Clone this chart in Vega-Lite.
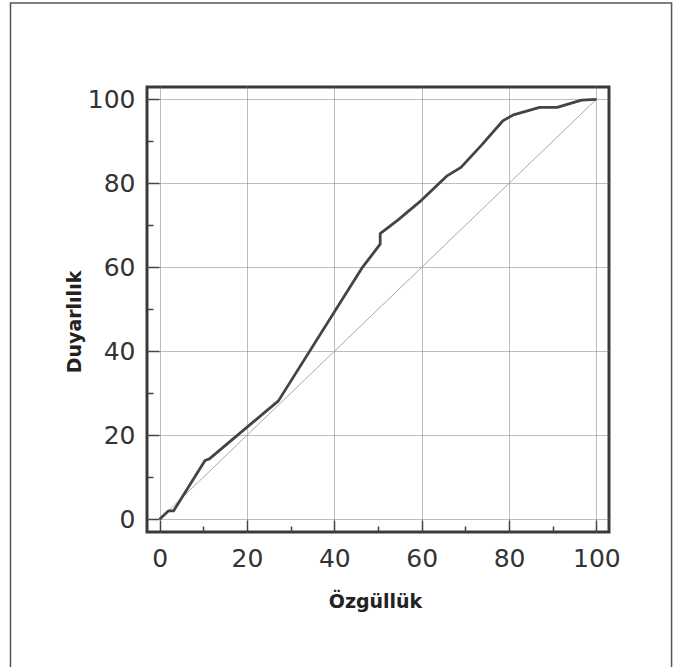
{
  "$schema": "https://vega.github.io/schema/vega-lite/v6.json",
  "width": 462,
  "height": 445,
  "autosize": {"type": "none"},
  "padding": {"left": 147, "top": 87, "right": 68, "bottom": 135},
  "background": "white",
  "config": {
    "view": {"stroke": "#3a3a3a", "strokeWidth": 3},
    "font": "DejaVu Sans"
  },
  "layer": [
    {
      "data": {"values": [{"s": 0, "d": 0}, {"s": 100, "d": 100}]},
      "mark": {"type": "line", "color": "#a8a8a8", "strokeWidth": 1},
      "encoding": {
        "x": {"field": "s", "type": "quantitative", "scale": {"domain": [-2.88, 102.88], "nice": false, "zero": false}},
        "y": {"field": "d", "type": "quantitative", "scale": {"domain": [-3.02, 102.93], "nice": false, "zero": false}}
      }
    },
    {
      "data": {"values": [
        {"s": 0, "d": 0}, {"s": 2, "d": 2}, {"s": 3.2, "d": 2}, {"s": 10.4, "d": 14},
        {"s": 11.4, "d": 14.4}, {"s": 27.2, "d": 28.2}, {"s": 46.3, "d": 59.8},
        {"s": 50.5, "d": 65.5}, {"s": 50.5, "d": 68}, {"s": 54.6, "d": 71.3},
        {"s": 60, "d": 76}, {"s": 65.7, "d": 81.7}, {"s": 69, "d": 83.8},
        {"s": 73.7, "d": 89.1}, {"s": 78.6, "d": 94.9}, {"s": 81, "d": 96.3},
        {"s": 87, "d": 98.1}, {"s": 91, "d": 98.1}, {"s": 96.6, "d": 99.8},
        {"s": 100, "d": 100}
      ]},
      "mark": {"type": "line", "color": "#444444", "strokeWidth": 2.8, "strokeJoin": "round"},
      "encoding": {
        "x": {
          "field": "s", "type": "quantitative",
          "scale": {"domain": [-2.88, 102.88], "nice": false, "zero": false},
          "axis": {
            "title": "Özgüllük",
            "values": [0, 5, 10, 15, 20, 25, 30, 35, 40, 45, 50, 55, 60, 65, 70, 75, 80, 85, 90, 95, 100],
            "domain": false,
            "tickSize": {"condition": {"test": "datum.value % 20 === 0", "value": -12}, "value": -6},
            "tickColor": "#444444",
            "tickWidth": 1.5,
            "grid": true,
            "gridOpacity": {"condition": {"test": "datum.value % 20 === 0", "value": 1}, "value": 0},
            "gridColor": "#7a7a7a",
            "gridDash": [1, 1],
            "gridWidth": 1,
            "labelExpr": "datum.value % 20 === 0 ? datum.label : ''",
            "labelFont": "DejaVu Sans",
            "labelFontSize": 25,
            "labelColor": "#333333",
            "labelBaseline": "alphabetic",
            "labelPadding": 46.7,
            "labelFlush": false,
            "labelOverlap": false,
            "titleFont": "DejaVu Sans",
            "titleFontSize": 19,
            "titleFontWeight": "bold",
            "titleColor": "#222222",
            "titleX": 228,
            "titleY": 75,
            "titleBaseline": "alphabetic",
            "titleAlign": "center"
          }
        },
        "y": {
          "field": "d", "type": "quantitative",
          "scale": {"domain": [-3.02, 102.93], "nice": false, "zero": false},
          "axis": {
            "title": "Duyarlılık",
            "values": [0, 5, 10, 15, 20, 25, 30, 35, 40, 45, 50, 55, 60, 65, 70, 75, 80, 85, 90, 95, 100],
            "domain": false,
            "tickSize": {"condition": {"test": "datum.value % 20 === 0", "value": -12}, "value": -6},
            "tickColor": "#444444",
            "tickWidth": 1.5,
            "grid": true,
            "gridOpacity": {"condition": {"test": "datum.value % 20 === 0", "value": 1}, "value": 0},
            "gridColor": "#7a7a7a",
            "gridDash": [1, 1],
            "gridWidth": 1,
            "labelExpr": "datum.value % 20 === 0 ? datum.label : ''",
            "labelFont": "DejaVu Sans",
            "labelFontSize": 25,
            "labelColor": "#333333",
            "labelPadding": 24,
            "labelFlush": false,
            "labelOverlap": false,
            "titleFont": "DejaVu Sans",
            "titleFontSize": 19,
            "titleFontWeight": "bold",
            "titleColor": "#222222",
            "titleAngle": -90,
            "titleX": -67,
            "titleY": 234.5,
            "titleBaseline": "alphabetic",
            "titleAlign": "center"
          }
        }
      }
    },
    {
      "data": {"values": [{"frame": 1}]},
      "mark": {"type": "rect", "fill": null, "stroke": "#555555", "strokeWidth": 1.5, "clip": false},
      "encoding": {
        "x": {"datum": -34.13, "type": "quantitative", "scale": {"domain": [-2.88, 102.88], "nice": false, "zero": false}},
        "x2": {"datum": 117.2},
        "y": {"datum": 122.93, "type": "quantitative", "scale": {"domain": [-3.02, 102.93], "nice": false, "zero": false}},
        "y2": {"datum": -45}
      }
    }
  ]
}
